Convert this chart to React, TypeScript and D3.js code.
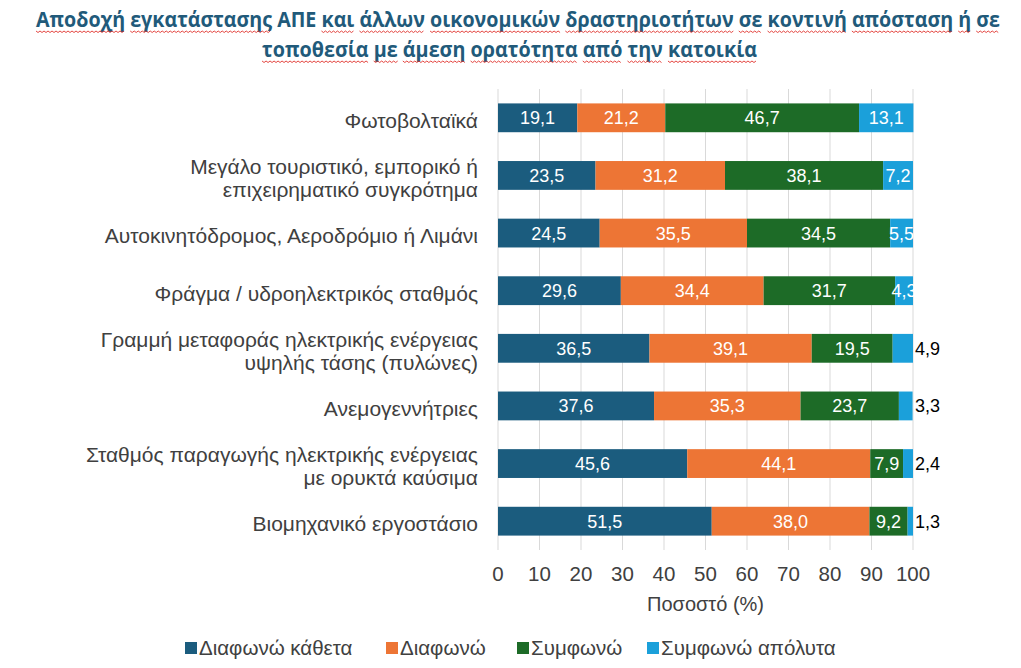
import { useEffect, useMemo, useRef } from 'react';
import * as d3 from 'd3';

// chart data
const titleLines = [
	'Αποδοχή εγκατάστασης ΑΠΕ και άλλων οικονομικών δραστηριοτήτων σε κοντινή απόσταση ή σε',
	'τοποθεσία με άμεση ορατότητα από την κατοικία',
];
// words without the red spell-check squiggle
const noSquiggle = ['ΑΠΕ'];

const categories = [
	['Φωτοβολταϊκά'],
	['Μεγάλο τουριστικό, εμπορικό ή', 'επιχειρηματικό συγκρότημα'],
	['Αυτοκινητόδρομος, Αεροδρόμιο ή Λιμάνι'],
	['Φράγμα / υδροηλεκτρικός σταθμός'],
	['Γραμμή μεταφοράς ηλεκτρικής ενέργειας', 'υψηλής τάσης (πυλώνες)'],
	['Ανεμογεννήτριες'],
	['Σταθμός παραγωγής ηλεκτρικής ενέργειας', 'με ορυκτά καύσιμα'],
	['Βιομηχανικό εργοστάσιο'],
];

const seriesNames = ['Διαφωνώ κάθετα', 'Διαφωνώ', 'Συμφωνώ', 'Συμφωνώ απόλυτα'];
const seriesColors = ['#1b5c7e', '#ed7535', '#1d6b27', '#1ba0da'];

const disagreeStrongly = [19.1, 23.5, 24.5, 29.6, 36.5, 37.6, 45.6, 51.5];
const disagree = [21.2, 31.2, 35.5, 34.4, 39.1, 35.3, 44.1, 38.0];
const agree = [46.7, 38.1, 34.5, 31.7, 19.5, 23.7, 7.9, 9.2];
const agreeStrongly = [13.1, 7.2, 5.5, 4.3, 4.9, 3.3, 2.4, 1.3];

const xTicks = [0, 10, 20, 30, 40, 50, 60, 70, 80, 90, 100];

const W = 1021;
const H = 668;
const FONT = '"Liberation Sans", Arial, sans-serif';
const TEXT = '#404040';

// title line placement: centre x, baseline y, width to squeeze into
const titleCx = [518, 509.5];
const titleY = [27, 57];
const titleW = [964, 495];

// format numbers with a greek decimal comma
const fmt = (v: number) => v.toFixed(1).replace('.', ',');

export default function App() {
	const titleRef = useRef<SVGGElement>(null);

	const x = useMemo(() => d3.scaleLinear().domain([0, 100]).range([498, 913]), []);
	const y = useMemo(
		() =>
			d3
				.scaleBand<number>()
				.domain(d3.range(categories.length))
				.range([89, 550])
				.paddingInner(0.5)
				.paddingOuter(0.25),
		[]
	);

	const rows = categories.map((_, i) => [
		disagreeStrongly[i],
		disagree[i],
		agree[i],
		agreeStrongly[i],
	]);

	const legendX = [185, 386, 517, 647];

	// squeeze the title lines to the reference width (Calibri-like look)
	// and draw the red spell-check squiggles under the words
	useEffect(() => {
		if (!titleRef.current) return;
		const root = d3.select(titleRef.current);
		root.selectAll('path.squiggle').remove();
		root.selectAll<SVGGElement, unknown>('g.tline').each(function (_, i) {
			const g = d3.select(this);
			const el = g.select<SVGTextElement>('text').node()!;
			const natural = el.getComputedTextLength();
			const sx = titleW[i] / natural;
			g.attr('transform', `translate(${titleCx[i]},${titleY[i]}) scale(${sx},1)`);

			const str = el.textContent || '';
			let idx = 0;
			for (const word of str.split(' ')) {
				const start = idx;
				const end = idx + word.length - 1;
				idx += word.length + 1;
				if (!word || noSquiggle.includes(word)) continue;
				const x0 = el.getStartPositionOfChar(start).x;
				const x1 = el.getEndPositionOfChar(end).x;
				const pts: [number, number][] = [];
				const step = 2 / sx;
				for (let xx = x0, k = 0; xx <= x1; xx += step, k++) {
					pts.push([xx, 4 + (k % 2 === 0 ? 0 : 1.5)]);
				}
				g.append('path')
					.attr('class', 'squiggle')
					.attr('d', d3.line()(pts))
					.attr('fill', 'none')
					.attr('stroke', '#e0302a')
					.attr('stroke-width', 0.9)
					.attr('vector-effect', 'non-scaling-stroke');
			}
		});
	}, []);

	return (
		<svg
			width={W}
			height={H}
			style={{ position: 'absolute', left: 0, top: 0, background: '#fff' }}
			fontFamily={FONT}
		>
			<defs>
				<clipPath id="plotClip">
					<rect x={x(0)} y={0} width={x(100) - x(0) + 1} height={H} />
				</clipPath>
			</defs>

			{/* title */}
			<g ref={titleRef}>
				{titleLines.map((t, i) => (
					<g
						key={i}
						className="tline"
						transform={`translate(${titleCx[i]},${titleY[i]}) scale(0.9,1)`}
					>
						<text
							x={0}
							y={0}
							textAnchor="middle"
							fontFamily='"Open Sans", sans-serif'
							fontWeight="bold"
							fontSize={21}
							fill="#215a7a"
						>
							{t}
						</text>
					</g>
				))}
			</g>

			{/* vertical gridlines */}
			{xTicks.map((t) => (
				<line
					key={t}
					x1={x(t)}
					x2={x(t)}
					y1={89}
					y2={550}
					stroke="#d9d9d9"
					strokeWidth={1}
				/>
			))}

			{/* bars */}
			{rows.map((vals, i) => {
				let acc = 0;
				const yy = y(i)!;
				const bh = y.bandwidth();
				return (
					<g key={i}>
						{vals.map((v, s) => {
							const x0 = x(acc);
							const x1 = x(acc + v);
							acc += v;
							const outside = s === 3 && v < 5 && v !== 4.3;
							return (
								<g key={s}>
									<rect x={x0} y={yy} width={x1 - x0} height={bh} fill={seriesColors[s]} />
									<text
										x={outside ? x(100) + 2 : (x0 + x1) / 2}
										y={yy + bh / 2}
										dy="0.36em"
										textAnchor={outside ? 'start' : 'middle'}
										fontSize={18}
										fill={outside ? '#000' : '#fff'}
										clipPath={outside ? undefined : 'url(#plotClip)'}
									>
										{fmt(v)}
									</text>
								</g>
							);
						})}
						{/* category labels */}
						{categories[i].map((line, k) => (
							<text
								key={k}
								x={478}
								y={yy + bh / 2 + 10 + (k - (categories[i].length - 1) / 2) * 23.5}
								textAnchor="end"
								fontSize={21}
								fill={TEXT}
							>
								{line}
							</text>
						))}
					</g>
				);
			})}

			{/* x axis tick labels */}
			{xTicks.map((t) => (
				<text
					key={t}
					x={x(t)}
					y={574}
					dy="0.36em"
					textAnchor="middle"
					fontSize={20.5}
					fill={TEXT}
				>
					{t}
				</text>
			))}
			<text x={x(50)} y={604} dy="0.36em" textAnchor="middle" fontSize={20} fill={TEXT}>
				Ποσοστό (%)
			</text>

			{/* legend */}
			{seriesNames.map((n, s) => (
				<g key={n}>
					<rect x={legendX[s]} y={642} width={12} height={12} fill={seriesColors[s]} />
					<text x={legendX[s] + 14} y={648} dy="0.36em" fontSize={20.5} fill={TEXT}>
						{n}
					</text>
				</g>
			))}
		</svg>
	);
}
